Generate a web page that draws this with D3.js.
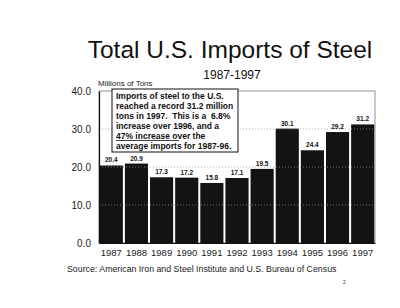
<!DOCTYPE html>
<html>
<head>
<meta charset="utf-8">
<script src="https://cdn.jsdelivr.net/npm/d3@7"></script>
<style>
  body { margin: 0; background: #fff; }
  svg { font-family: "Liberation Sans", Arial, sans-serif; }
</style>
</head>
<body>
<div id="chart"></div>
<script>
var years = ["1987","1988","1989","1990","1991","1992","1993","1994","1995","1996","1997"];
var imports = [20.4, 20.9, 17.3, 17.2, 15.8, 17.1, 19.5, 30.1, 24.4, 29.2, 31.2];
var yTicks = [0, 10, 20, 30, 40];
var noteLines = [
  "Imports of steel to the U.S.",
  "reached a record 31.2 million",
  "tons in 1997.  This is a  6.8%",
  "increase over 1996, and a",
  "47% increase over the",
  "average imports for 1987-96."
];

var W = 400, H = 308;
var margin = {top: 91, right: 25, bottom: 65, left: 99};
var width = W - margin.left - margin.right;
var height = H - margin.top - margin.bottom;

var svg = d3.select("#chart").append("svg")
    .attr("width", W)
    .attr("height", H);

svg.append("text")
    .attr("x", 230).attr("y", 58)
    .attr("text-anchor", "middle")
    .attr("font-size", 24.5)
    .attr("fill", "#111")
    .text("Total U.S. Imports of Steel");

svg.append("text")
    .attr("x", 232).attr("y", 79)
    .attr("text-anchor", "middle")
    .attr("font-size", 12)
    .attr("fill", "#111")
    .text("1987-1997");

svg.append("text")
    .attr("x", 98).attr("y", 86)
    .attr("font-size", 8)
    .attr("fill", "#222")
    .text("Millions of Tons");

var g = svg.append("g")
    .attr("transform", "translate(" + margin.left + "," + margin.top + ")");

var x = d3.scaleBand().domain(years).range([0, width]).paddingInner(0.08).paddingOuter(0.03);
var y = d3.scaleLinear().domain([0, 40]).range([height, 0]);

// plot frame
g.append("rect")
    .attr("width", width).attr("height", height)
    .attr("fill", "none")
    .attr("stroke", "#777")
    .attr("stroke-width", 0.8);

var bar = g.selectAll(".bar")
    .data(imports)
    .enter().append("rect")
    .attr("class", "bar")
    .attr("x", function(d, i) { return x(years[i]); })
    .attr("y", function(d) { return y(d); })
    .attr("width", x.bandwidth())
    .attr("height", function(d) { return height - y(d); })
    .attr("fill", "#131313");

// dotted gridlines drawn over everything, faint
g.selectAll(".grid")
    .data([10, 20, 30])
    .enter().append("line")
    .attr("x1", 0).attr("x2", width)
    .attr("y1", function(d) { return y(d); })
    .attr("y2", function(d) { return y(d); })
    .attr("stroke", "#999")
    .attr("stroke-width", 0.7)
    .attr("stroke-dasharray", "1,2");

g.selectAll(".val")
    .data(imports)
    .enter().append("text")
    .attr("x", function(d, i) { return x(years[i]) + x.bandwidth() / 2; })
    .attr("y", function(d) { return y(d) - 3; })
    .attr("text-anchor", "middle")
    .attr("font-size", 6.5)
    .attr("font-weight", "bold")
    .attr("fill", "#111")
    .text(function(d) { return d.toFixed(1); });

var yAxis = g.append("g")
    .call(d3.axisLeft(y).tickValues(yTicks).tickSize(0).tickPadding(8)
        .tickFormat(function(d) { return d.toFixed(1); }));
yAxis.select(".domain").attr("stroke", "#111").attr("stroke-width", 1.2);
yAxis.selectAll("text").attr("font-size", 10).attr("fill", "#222")
    .attr("font-family", "Liberation Sans, Arial, sans-serif");

var xAxis = g.append("g")
    .attr("transform", "translate(0," + height + ")")
    .call(d3.axisBottom(x).tickSize(0).tickPadding(6));
xAxis.select(".domain").attr("stroke", "#111").attr("stroke-width", 1.2);
xAxis.selectAll("text").attr("font-size", 9.5).attr("fill", "#222")
    .attr("font-family", "Liberation Sans, Arial, sans-serif");

// note box
var note = svg.append("g").attr("transform", "translate(112,89)");
note.append("rect")
    .attr("width", 126).attr("height", 63)
    .attr("fill", "#fff")
    .attr("stroke", "#111")
    .attr("stroke-width", 1);
note.selectAll("text")
    .data(noteLines)
    .enter().append("text")
    .attr("x", 4)
    .attr("y", function(d, i) { return 10 + i * 10; })
    .attr("font-size", 8.5)
    .attr("font-weight", "bold")
    .attr("fill", "#111")
    .style("white-space", "pre")
    .text(function(d) { return d; });
// underline for "47% increase"
note.append("line")
    .attr("x1", 4).attr("x2", 67)
    .attr("y1", 10 + 4 * 10 + 1.5).attr("y2", 10 + 4 * 10 + 1.5)
    .attr("stroke", "#111").attr("stroke-width", 0.8);

svg.append("text")
    .attr("x", 67).attr("y", 272)
    .attr("font-size", 8.8)
    .attr("fill", "#222")
    .text("Source:  American Iron and Steel Institute and U.S. Bureau of Census");

svg.append("text")
    .attr("x", 343).attr("y", 284)
    .attr("font-size", 5)
    .attr("fill", "#333")
    .text("2");
</script>
</body>
</html>
